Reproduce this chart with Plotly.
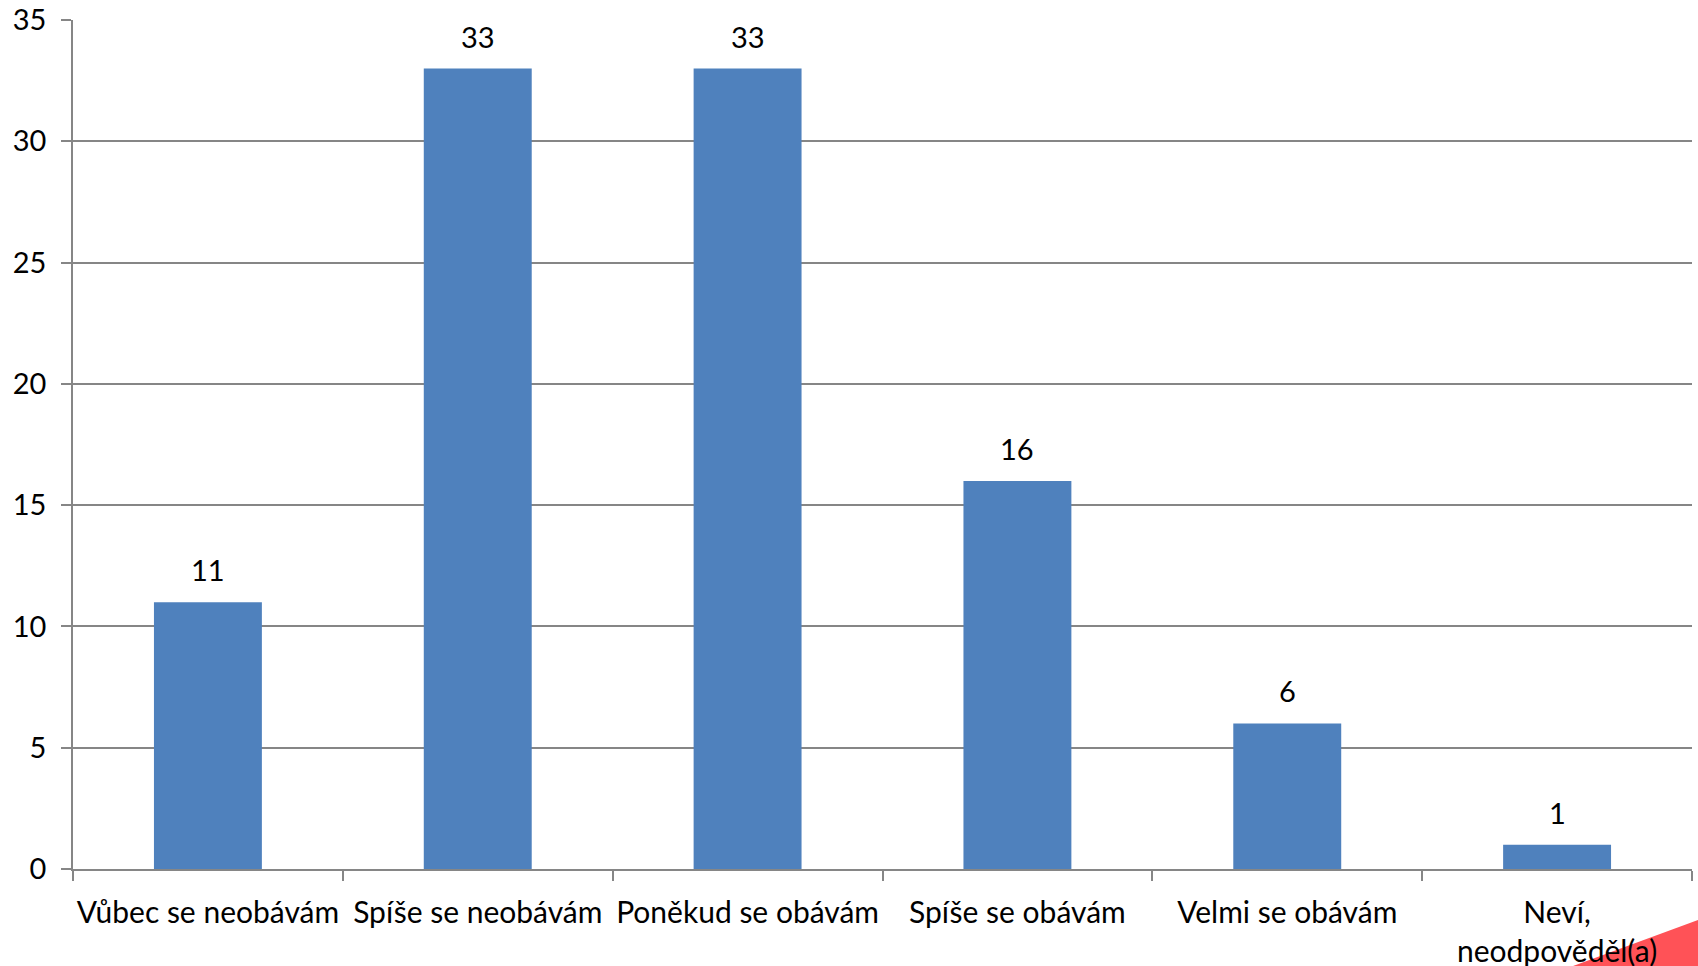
import plotly.graph_objects as go

categories = ["Vůbec se neobávám", "Spíše se neobávám", "Poněkud se obávám",
              "Spíše se obávám", "Velmi se obávám", "Neví,<br>neodpověděl(a)"]
values = [11, 33, 33, 16, 6, 1]
y_ticks = [0, 5, 10, 15, 20, 25, 30, 35]

FONT = "Lato, Carlito, Calibri, sans-serif"
FS = 29

fig = go.Figure()
fig.add_trace(go.Bar(
    x=categories, y=values,
    marker=dict(color="#4F81BD", line=dict(width=0)),
    width=0.4,
))

for c, v in zip(categories, values):
    fig.add_annotation(x=c, y=v, text=str(v), showarrow=False,
                       xanchor="center", yanchor="bottom", yshift=13,
                       font=dict(family=FONT, size=FS, color="#000000"))

fig.update_layout(
    width=1698, height=966,
    margin=dict(l=73, r=6, t=20, b=97, autoexpand=False),
    paper_bgcolor="white", plot_bgcolor="white",
    showlegend=False,
    font=dict(family=FONT, size=FS, color="#000000"),
    shapes=[dict(type="path", xref="paper", yref="paper",
                 path="M 0.9265 -0.1143 L 1.0037 -0.0601 L 1.0037 -0.1143 Z",
                 fillcolor="#FF5257", line=dict(width=0), layer="below")],
)
fig.update_xaxes(
    automargin=False, tickangle=0,
    showline=True, linecolor="#868686", linewidth=1.5,
    ticks="outside", tickson="boundaries", ticklen=10, tickcolor="#868686", tickwidth=1.5,
    showgrid=False, tickfont=dict(family=FONT, size=30),
    ticklabelstandoff=16,
)
fig.update_yaxes(
    automargin=False,
    range=[0, 35], tickvals=y_ticks,
    showline=True, linecolor="#868686", linewidth=1.5,
    ticks="outside", ticklen=10, tickcolor="#868686", tickwidth=1.5,
    showgrid=True, gridcolor="#868686", gridwidth=1.5,
    zeroline=False, tickfont=dict(family=FONT, size=FS),
    ticklabelstandoff=9,
)

fig.write_html("out.html",
               config={"displayModeBar": False},
               post_script="document.body.style.margin='0';document.body.style.overflow='hidden';")
